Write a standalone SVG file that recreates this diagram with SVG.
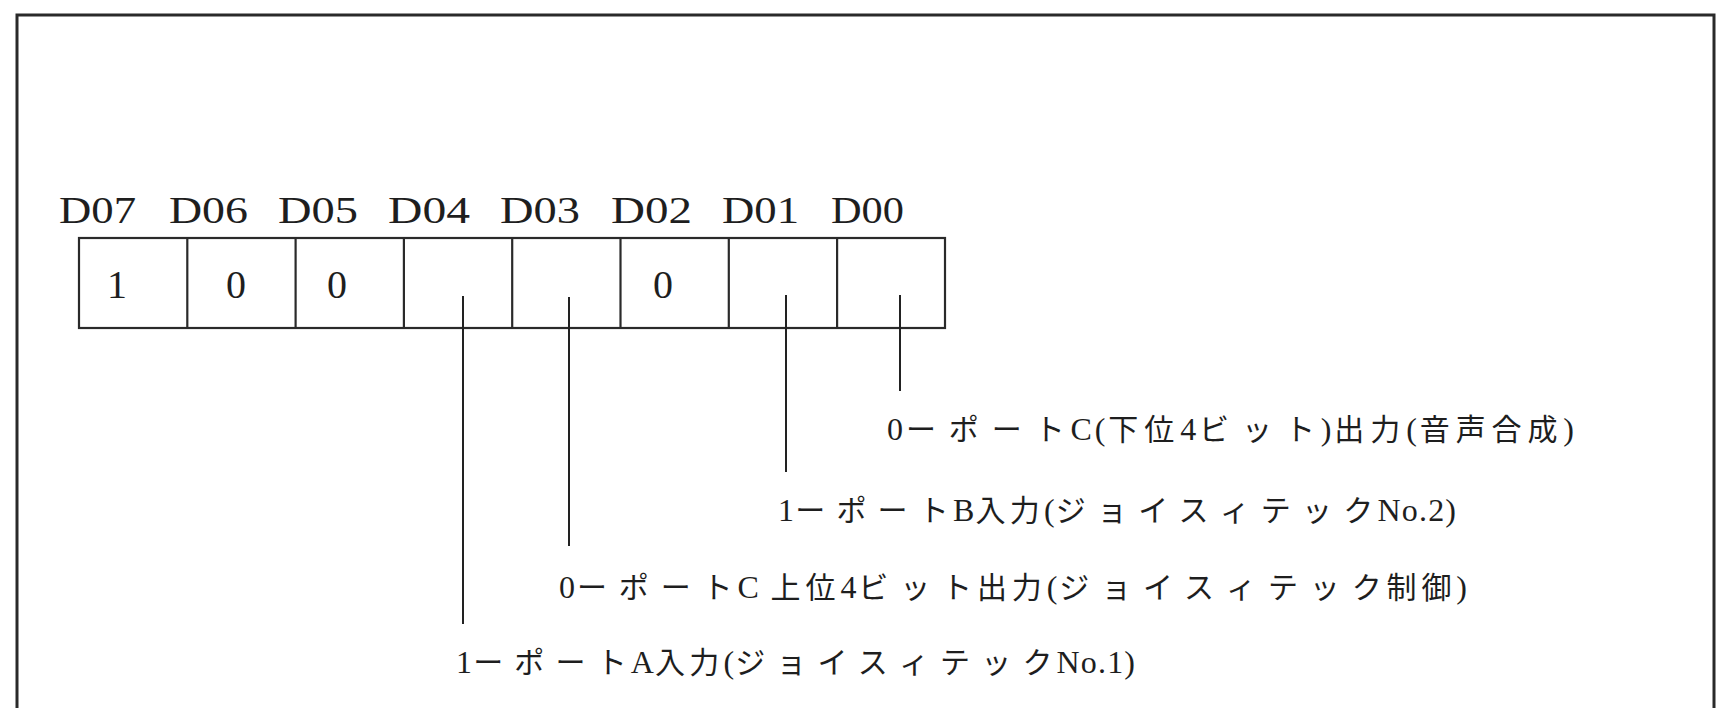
<svg xmlns="http://www.w3.org/2000/svg" width="1717" height="708" viewBox="0 0 1717 708">
<style>
.frame{fill:none;stroke:#2a2a2a;stroke-width:3}
.cell{fill:none;stroke:#2a2a2a;stroke-width:2.2}
.lead{fill:none;stroke:#222;stroke-width:2}
.lbl{font-family:"Liberation Serif",serif;font-size:38px;fill:#1e1e1e}
.bit{font-family:"Liberation Serif",serif;font-size:40px;fill:#1e1e1e}
.desc{font-family:"Liberation Serif","Noto Sans CJK JP",serif;font-size:32px;fill:#1e1e1e}
.k{font-family:"Noto Sans CJK JP",sans-serif;font-size:30px;letter-spacing:10px}
.h{font-family:"Noto Sans CJK JP",sans-serif;font-size:30px;letter-spacing:3px}
</style>
<rect width="1717" height="708" fill="#ffffff"/>
<g id="frame">
<polyline class="frame" points="17,708 17,15 1714,15 1714,708"/>
</g>
<g id="register">
<rect class="cell" x="79" y="238" width="866" height="90"/>
<line class="cell" x1="187.3" y1="238" x2="187.3" y2="328"/>
<line class="cell" x1="295.6" y1="238" x2="295.6" y2="328"/>
<line class="cell" x1="403.9" y1="238" x2="403.9" y2="328"/>
<line class="cell" x1="512.2" y1="238" x2="512.2" y2="328"/>
<line class="cell" x1="620.5" y1="238" x2="620.5" y2="328"/>
<line class="cell" x1="728.8" y1="238" x2="728.8" y2="328"/>
<line class="cell" x1="837.1" y1="238" x2="837.1" y2="328"/>
</g>
<g id="bit-labels">
<text class="lbl" x="59" y="223" textLength="77" lengthAdjust="spacingAndGlyphs">D07</text>
<text class="lbl" x="169" y="223" textLength="79" lengthAdjust="spacingAndGlyphs">D06</text>
<text class="lbl" x="278" y="223" textLength="80" lengthAdjust="spacingAndGlyphs">D05</text>
<text class="lbl" x="388" y="223" textLength="82" lengthAdjust="spacingAndGlyphs">D04</text>
<text class="lbl" x="500" y="223" textLength="80" lengthAdjust="spacingAndGlyphs">D03</text>
<text class="lbl" x="611" y="223" textLength="81" lengthAdjust="spacingAndGlyphs">D02</text>
<text class="lbl" x="722" y="223" textLength="77" lengthAdjust="spacingAndGlyphs">D01</text>
<text class="lbl" x="831" y="223" textLength="73" lengthAdjust="spacingAndGlyphs">D00</text>
</g>
<g id="bit-values">
<text class="bit" x="117" y="298" text-anchor="middle">1</text>
<text class="bit" x="236" y="298" text-anchor="middle">0</text>
<text class="bit" x="337" y="298" text-anchor="middle">0</text>
<text class="bit" x="663" y="298" text-anchor="middle">0</text>
</g>
<g id="connectors">
<line class="lead" x1="463" y1="296" x2="463" y2="624"/>
<line class="lead" x1="569" y1="297" x2="569" y2="546"/>
<line class="lead" x1="786" y1="295" x2="786" y2="472"/>
<line class="lead" x1="900" y1="295" x2="900" y2="391"/>
</g>
<g id="desc-d00">
<text class="desc" x="887" y="440" textLength="687" lengthAdjust="spacing">0<tspan class="k">ーポー</tspan><tspan class="h">ト</tspan>C(<tspan class="h">下位</tspan>4<tspan class="k">ビッ</tspan><tspan class="h">ト</tspan>)<tspan class="h">出力</tspan>(<tspan class="h">音声合成</tspan>)</text>
</g>
<g id="desc-d01">
<text class="desc" x="778" y="521" textLength="678" lengthAdjust="spacing">1<tspan class="k">ーポー</tspan><tspan class="h">ト</tspan>B<tspan class="h">入力</tspan>(<tspan class="k">ジョイスィテッ</tspan><tspan class="h">ク</tspan>No.2)</text>
</g>
<g id="desc-d03">
<text class="desc" x="559" y="598" textLength="908" lengthAdjust="spacing">0<tspan class="k">ーポー</tspan><tspan class="h">ト</tspan>C <tspan class="h">上位</tspan>4<tspan class="k">ビッ</tspan><tspan class="h">ト出力</tspan>(<tspan class="k">ジョイスィテッ</tspan><tspan class="h">ク制御</tspan>)</text>
</g>
<g id="desc-d04">
<text class="desc" x="456" y="673" textLength="679" lengthAdjust="spacing">1<tspan class="k">ーポー</tspan><tspan class="h">ト</tspan>A<tspan class="h">入力</tspan>(<tspan class="k">ジョイスィテッ</tspan><tspan class="h">ク</tspan>No.1)</text>
</g>
</svg>
